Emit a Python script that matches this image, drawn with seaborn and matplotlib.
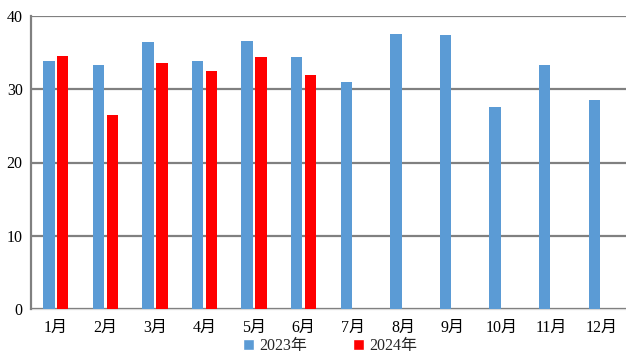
import numpy as np
import pandas as pd
import matplotlib
matplotlib.use("Agg")
import matplotlib.pyplot as plt
import seaborn as sns
from matplotlib.patches import Patch

months = ["1月", "2月", "3月", "4月", "5月", "6月", "7月", "8月", "9月", "10月", "11月", "12月"]
values_2023 = [33.8, 33.3, 36.4, 33.9, 36.6, 34.4, 31.0, 37.5, 37.4, 27.6, 33.3, 28.5]
values_2024 = [34.5, 26.5, 33.6, 32.5, 34.4, 32.0, np.nan, np.nan, np.nan, np.nan, np.nan, np.nan]
series = ["2023年", "2024年"]
colors = ["#5B9BD5", "#FF0000"]

sns.set_theme(style="white")
plt.rcParams["font.family"] = ["Liberation Serif", "Noto Sans CJK SC"]

df = pd.DataFrame({
    "month": months * 2,
    "value": values_2023 + values_2024,
    "year": [series[0]] * len(months) + [series[1]] * len(months),
})

fig = plt.figure(figsize=(6.26, 3.55), dpi=100)
ax = fig.add_axes([31 / 626, 1 - 309 / 355, 1 - 31 / 626, (309 - 16) / 355])

sns.barplot(data=df, x="month", y="value", hue="year", order=months,
            hue_order=series, palette=colors, width=0.56, gap=0.18,
            saturation=1, linewidth=0, ax=ax, legend=False)

ax.set_xlim(-0.5, 11.5)
ax.set_ylim(0, 40)
ax.set_yticks([0, 10, 20, 30, 40])
ax.set_xlabel("")
ax.set_ylabel("")
ax.yaxis.grid(True, color="#808080", linewidth=1.6)
ax.set_axisbelow(True)
for s in ["top", "right"]:
    ax.spines[s].set_visible(False)
ax.spines["left"].set_color("#808080")
ax.spines["left"].set_linewidth(1.6)
ax.spines["bottom"].set_color("#D9D9D9")
ax.spines["bottom"].set_linewidth(1.6)
ax.spines["bottom"].set_zorder(0.5)
ax.tick_params(axis="both", length=0, labelsize=11.5, colors="#000000")
ax.tick_params(axis="y", pad=6)
ax.tick_params(axis="x", pad=8)

handles = [Patch(facecolor=c, label=s) for c, s in zip(colors, series)]
fig.legend(handles=handles, loc="center", bbox_to_anchor=(330 / 626, 1 - 346 / 355),
           ncol=2, frameon=False, fontsize=11.5, handlelength=0.7, handleheight=0.7,
           handletextpad=0.3, columnspacing=2.9, borderaxespad=0)

fig.savefig("out.png", dpi=100)
